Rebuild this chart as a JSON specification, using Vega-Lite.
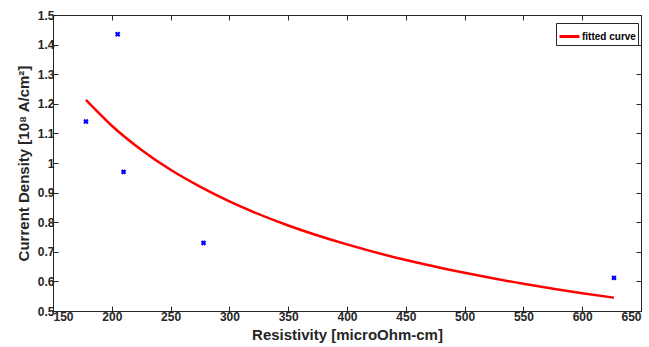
{
  "$schema": "https://vega.github.io/schema/vega-lite/v6.json",
  "width": 588,
  "height": 296,
  "autosize": "none",
  "padding": {"left": 53, "top": 15, "right": 8, "bottom": 36},
  "background": "white",
  "config": {
    "font": "Liberation Sans",
    "view": {"stroke": "#262626", "strokeWidth": 1},
    "axis": {
      "grid": false,
      "domainColor": "#262626",
      "tickColor": "#262626",
      "tickSize": -5,
      "labelFont": "Liberation Sans",
      "labelFontWeight": "bold",
      "labelFontSize": 12,
      "labelColor": "#262626",
      "titleFont": "Liberation Sans",
      "titleFontWeight": "bold",
      "titleFontSize": 15,
      "titleColor": "#262626"
    }
  },
  "datasets": {
    "pts": [
      {"r": 178, "j": 1.14},
      {"r": 205, "j": 1.435},
      {"r": 210, "j": 0.97},
      {"r": 278, "j": 0.73},
      {"r": 627, "j": 0.612}
    ],
    "fit": [
      {"r": 178, "j": 1.213, "s": "fitted curve"},
      {"r": 200, "j": 1.126, "s": "fitted curve"},
      {"r": 225, "j": 1.045, "s": "fitted curve"},
      {"r": 250, "j": 0.977, "s": "fitted curve"},
      {"r": 275, "j": 0.92, "s": "fitted curve"},
      {"r": 300, "j": 0.87, "s": "fitted curve"},
      {"r": 350, "j": 0.789, "s": "fitted curve"},
      {"r": 400, "j": 0.725, "s": "fitted curve"},
      {"r": 450, "j": 0.672, "s": "fitted curve"},
      {"r": 500, "j": 0.629, "s": "fitted curve"},
      {"r": 550, "j": 0.592, "s": "fitted curve"},
      {"r": 600, "j": 0.56, "s": "fitted curve"},
      {"r": 627, "j": 0.545, "s": "fitted curve"}
    ]
  },
  "layer": [
    {
      "data": {"name": "pts"},
      "mark": {"type": "point", "shape": "cross", "angle": 45, "filled": true, "size": 30, "color": "#0000ff", "opacity": 1},
      "encoding": {
        "x": {"field": "r", "type": "quantitative", "scale": {"domain": [150, 650], "nice": false, "zero": false},
              "axis": {"title": "Resistivity [microOhm-cm]", "values": [150,200,250,300,350,400,450,500,550,600,650], "labelPadding": 5, "titlePadding": 5}},
        "y": {"field": "j", "type": "quantitative", "scale": {"domain": [0.5, 1.5], "nice": false, "zero": false},
              "axis": {"title": "Current Density [10⁸ A/cm²]", "format": ".1~f", "values": [0.5,0.6,0.7,0.8,0.9,1,1.1,1.2,1.3,1.4,1.5], "labelPadding": 4, "titlePadding": 6}}
      }
    },
    {
      "data": {"name": "fit"},
      "mark": {"type": "line", "strokeWidth": 2.5, "interpolate": "monotone"},
      "encoding": {
        "x": {"field": "r", "type": "quantitative", "axis": {"orient": "top", "labels": false, "title": null, "values": [150,200,250,300,350,400,450,500,550,600,650]}},
        "y": {"field": "j", "type": "quantitative", "axis": {"orient": "right", "labels": false, "title": null, "values": [0.5,0.6,0.7,0.8,0.9,1,1.1,1.2,1.3,1.4,1.5]}},
        "color": {"field": "s", "type": "nominal", "scale": {"domain": ["fitted curve"], "range": ["#ff0000"]},
                  "legend": {"title": null, "orient": "none", "legendX": 503, "legendY": 8, "symbolType": "stroke", "symbolStrokeWidth": 3, "symbolSize": 400,
                             "labelFont": "Liberation Sans", "labelFontWeight": "bold", "labelFontSize": 10, "labelColor": "#000000", "labelOffset": 1,
                             "strokeColor": "#262626", "padding": 2, "fillColor": "white"}}
      }
    }
  ],
  "resolve": {"axis": {"x": "independent", "y": "independent"}}
}
